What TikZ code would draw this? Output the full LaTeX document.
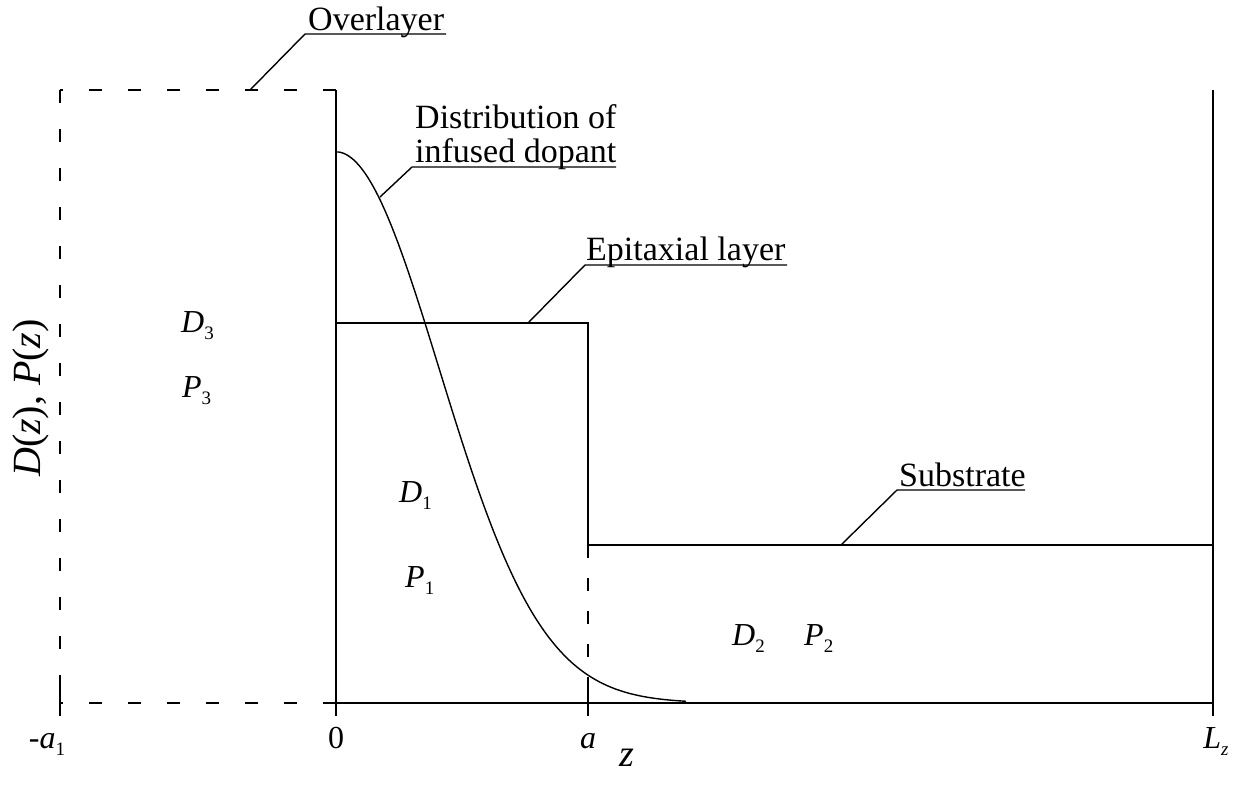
\documentclass[tikz,border=0pt]{standalone}
\usepackage{fontspec}
\setmainfont{Liberation Serif}
\newcommand{\sbs}[1]{\raisebox{-0.22em}{\fontsize{19}{19}\selectfont #1}}
\tikzset{
  lbl/.style={font=\fontsize{34}{35}\selectfont, inner sep=0pt, anchor=base west},
  mlbl/.style={font=\fontsize{32}{33}\selectfont, inner sep=0pt, anchor=base west},
  tlbl/.style={font=\fontsize{32}{33}\selectfont, inner sep=0pt, anchor=base},
  ln/.style={line width=1.4pt},
  dsh/.style={line width=1.4pt, dash pattern=on 13pt off 26pt},
  dsha/.style={line width=1.4pt, dash pattern=on 13pt off 20pt},
}
\begin{document}
\begin{tikzpicture}[x=1pt,y=-1pt]
\useasboundingbox (0,0) rectangle (1239,796);
% key points
\coordinate (TL) at (60,90);
\coordinate (T0) at (336,90);
\coordinate (B0) at (336,703);
\coordinate (BL) at (60,703);
\coordinate (BR) at (1213,703);
\coordinate (TR) at (1213,90);
\coordinate (E1) at (336,323);
\coordinate (E2) at (588,323);
\coordinate (E3) at (588,545);
\coordinate (E4) at (1213,545);
\coordinate (A0) at (588,703);
% overlayer (dashed)
\draw[dsh] (TL) -- (BL);
\draw[dsh] (T0) -- (TL);
\draw[dsh] (B0) -- (BL);
\draw[ln] (60,683) -- (60,716);
% solid frame
\draw[ln] (T0) -- (336,716);
\draw[ln] (B0) -- (BR);
\draw[ln] (TR) -- (1213,716);
% epitaxial / substrate profile
\draw[ln] (E1) -- (E2) -- (E3) -- (E4);
\draw[dsha] (E3) -- (A0);
\draw[ln] (588,690) -- (588,716);
% dopant distribution
\draw[ln] plot[domain=336:686, samples=140, smooth] (\x, {703-551*exp(-((\x-336)/100)^2/2.1288)});
% leaders with labels
\node[lbl] (ovl) at (308,30) {Overlayer};
\coordinate (ovlp) at (250,90);
\draw[ln] (ovlp) -- (305,34) -- (446,34);
\node[lbl] (dist1) at (415,128) {Distribution of};
\node[lbl] (dist2) at (415,162) {infused dopant};
\coordinate (distp) at (380,197);
\draw[ln] (distp) -- (412,167) -- (616,167);
\node[lbl] (epi) at (586,260) {Epitaxial layer};
\coordinate (epip) at (528,323);
\draw[ln] (epip) -- (585,265) -- (787,265);
\node[lbl] (sub) at (899,486) {Substrate};
\coordinate (subp) at (841,545);
\draw[ln] (subp) -- (897,490) -- (1025,490);
% region labels
\node[mlbl] (d3) at (181,332) {\textit{D}\sbs{3}};
\node[mlbl] (p3) at (182,397) {\textit{P}\sbs{3}};
\node[mlbl] (d1) at (399,502) {\textit{D}\sbs{1}};
\node[mlbl] (p1) at (405,587) {\textit{P}\sbs{1}};
\node[mlbl] (d2) at (732,645) {\textit{D}\sbs{2}};
\node[mlbl] (p2) at (804,645) {\textit{P}\sbs{2}};
% tick labels
\node[tlbl] (ta1) at (47,748) {-\textit{a}\sbs{1}};
\node[tlbl] (t0) at (336,748) {0};
\node[tlbl] (ta) at (588,748) {\textit{a}};
\node[tlbl] (tl) at (1216,748) {\textit{L}\sbs{\textit{z}}};
\node[font=\fontsize{38}{40}\selectfont, inner sep=0pt, anchor=base] (zl) at (627,766) {\textit{z}};
\node[font=\fontsize{40}{42}\selectfont, inner sep=0pt, rotate=90] (yl) at (31,398) {\textit{D}(\textit{z}), \textit{P}(\textit{z})};
\end{tikzpicture}
\end{document}
